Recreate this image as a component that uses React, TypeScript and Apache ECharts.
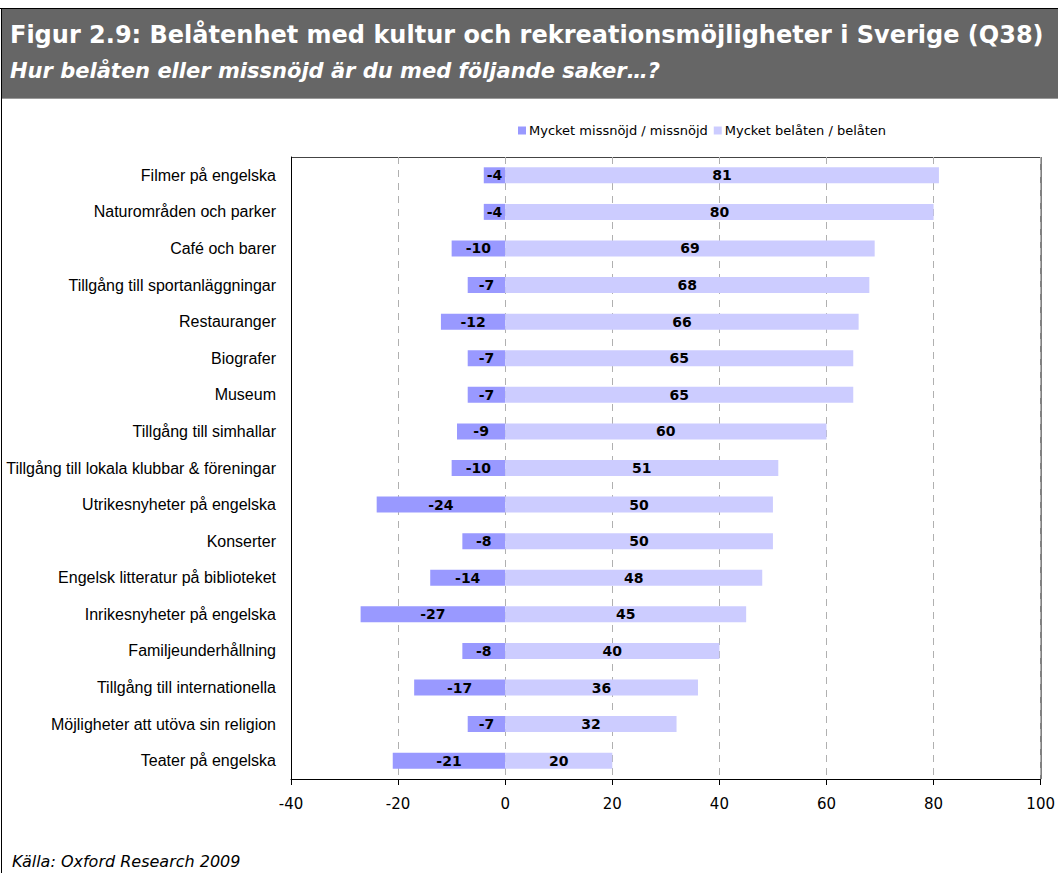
import React, { useEffect, useRef } from "react";
import * as echarts from "echarts";

const categories = [
  "Filmer på engelska",
  "Naturområden och parker",
  "Café och barer",
  "Tillgång till sportanläggningar",
  "Restauranger",
  "Biografer",
  "Museum",
  "Tillgång till simhallar",
  "Tillgång till lokala klubbar & föreningar",
  "Utrikesnyheter på engelska",
  "Konserter",
  "Engelsk litteratur på biblioteket",
  "Inrikesnyheter på engelska",
  "Familjeunderhållning",
  "Tillgång till internationella",
  "Möjligheter att utöva sin religion",
  "Teater på engelska",
];
const missnojd = [-4, -4, -10, -7, -12, -7, -7, -9, -10, -24, -8, -14, -27, -8, -17, -7, -21];
const belaten = [81, 80, 69, 68, 66, 65, 65, 60, 51, 50, 50, 48, 45, 40, 36, 32, 20];
const seriesNames = ["Mycket missnöjd / missnöjd", "Mycket belåten / belåten"];
const titleText = "Figur 2.9: Belåtenhet med kultur och rekreationsmöjligheter i Sverige (Q38)";
const subtitleText = "Hur belåten eller missnöjd är du med följande saker…?";
const sourceText = "Källa: Oxford Research 2009";

export default function App() {
  const ref = useRef<HTMLDivElement>(null);
  useEffect(() => {
    document.body.style.margin = "0";
    const chart = echarts.init(ref.current!, null, { renderer: "svg" });
    const labelStyle = {
      show: true,
      position: "inside",
      fontFamily: "DejaVu Sans",
      fontWeight: "bold",
      fontSize: 14,
      color: "#000",
    };
    chart.setOption({
      animation: false,
      backgroundColor: "#fff",
      grid: { left: 291, right: 17, top: 157, bottom: 94, containLabel: false },
      legend: {
        left: 513,
        top: 119,
        itemWidth: 8,
        itemHeight: 8,
        itemGap: 6,
        icon: "rect",
        textStyle: { fontFamily: "DejaVu Sans", fontSize: 13, color: "#000", padding: [0, 0, 0, -2] },
        data: seriesNames,
      },
      xAxis: {
        type: "value",
        min: -40,
        max: 100,
        interval: 20,
        axisLine: { show: true, onZero: false, lineStyle: { color: "#000", width: 1 } },
        axisTick: { show: true, length: 6, lineStyle: { color: "#000" } },
        axisLabel: { fontFamily: "DejaVu Sans", fontSize: 15, color: "#000", margin: 17 },
        splitLine: { show: true, lineStyle: { color: "#b0b0b0", type: [7, 6], width: 1 } },
      },
      yAxis: {
        type: "category",
        data: categories,
        inverse: true,
        axisLine: { show: true, onZero: false, lineStyle: { color: "#000", width: 1 } },
        axisTick: { show: false },
        axisLabel: { fontFamily: "Liberation Sans", fontSize: 16, color: "#000", margin: 15 },
      },
      series: [
        {
          name: seriesNames[0],
          type: "bar",
          stack: "s",
          data: missnojd,
          barWidth: 16,
          itemStyle: { color: "#9999ff" },
          label: labelStyle,
        },
        {
          name: seriesNames[1],
          type: "bar",
          stack: "s",
          data: belaten,
          barWidth: 16,
          itemStyle: { color: "#ccccff" },
          label: labelStyle,
        },
      ],
      graphic: [
        { type: "rect", shape: { x: 2, y: 9, width: 1056, height: 89 }, style: { fill: "#666666" }, silent: true },
        { type: "line", shape: { x1: 0, y1: 8.5, x2: 1058, y2: 8.5 }, style: { stroke: "#000", lineWidth: 1 } },
        { type: "line", shape: { x1: 2, y1: 98.5, x2: 1058, y2: 98.5 }, style: { stroke: "#9a9a9a", lineWidth: 1 } },
        { type: "line", shape: { x1: 1.5, y1: 8, x2: 1.5, y2: 873 }, style: { stroke: "#000", lineWidth: 1 } },
        { type: "line", shape: { x1: 291, y1: 157.5, x2: 1041, y2: 157.5 }, style: { stroke: "#444", lineWidth: 1 } },
        { type: "line", shape: { x1: 1041, y1: 157, x2: 1041, y2: 779 }, style: { stroke: "#808080", lineWidth: 2 } },
        {
          type: "text",
          left: 10,
          top: 23,
          style: { text: titleText, fill: "#fff", font: "bold 24px 'DejaVu Sans'" },
        },
        {
          type: "text",
          left: 10,
          top: 60,
          style: { text: subtitleText, fill: "#fff", font: "italic bold 21px 'DejaVu Sans'" },
        },
        {
          type: "text",
          left: 12,
          top: 853,
          style: { text: sourceText, fill: "#000", font: "italic 16px 'DejaVu Sans'" },
        },
      ],
    });
    return () => chart.dispose();
  }, []);
  return <div ref={ref} style={{ width: 1058, height: 873 }} />;
}
